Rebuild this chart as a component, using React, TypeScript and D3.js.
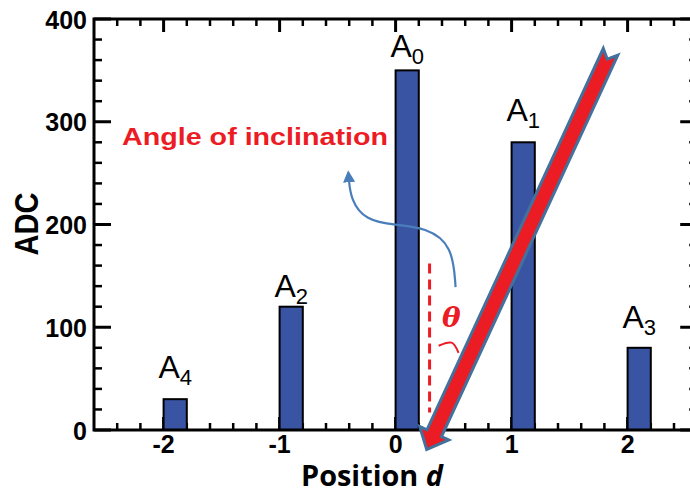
import React from 'react';
import * as d3 from 'd3';

// ---- data ----
const positions = [-2, -1, 0, 1, 2];
const adcValues = [30, 120, 350, 280, 80];
const barSubscripts = ['4', '2', '0', '1', '3'];
const xTicks = [-2, -1, 0, 1, 2];
const xTickLabels = ['-2', '-1', '0', '1', '2'];
const yTicks = [0, 100, 200, 300, 400];
const yTickLabels = ['0', '100', '200', '300', '400'];
const xTitle = 'Position ';
const xTitleVar = 'd';
const yTitle = 'ADC';
const annotationText = 'Angle of inclination';
const thetaText = 'θ';

// annotation anchors in data units [d, ADC]
const bigArrowTail: [number, number] = [1.853, 368];
const bigArrowTip: [number, number] = [0.268, -19];
const dashedTop: [number, number] = [0.293, 162];
const dashedBottom: [number, number] = [0.293, 17];
const curvePts: [number, number][] = [
  [0.517, 139], [0.491, 180], [0.259, 197], [0.0, 199.5],
  [-0.259, 204], [-0.388, 224], [-0.405, 247],
];
const arcPts: [number, number][] = [[0.371, 82], [0.483, 85], [0.543, 75]];

// ---- styles ----
const W = 690, H = 494;
const BAR_W = 0.2;
const LABEL_LIFT: Record<string, number> = { '4': 21, '2': 10, '0': 13, '1': 21, '3': 20 };
const BAR_FILL = '#3a54a4';
const RED = '#ec1c24';
const ARROW_BLUE = '#41719c';
const CURVE_BLUE = '#4a7ebb';
const SANS = '"Liberation Sans", Arial, sans-serif';

function arrowPolygon(x0: number, y0: number, x1: number, y1: number,
  hw: number, headW: number, headL: number, notch: number) {
  const dx = x1 - x0, dy = y1 - y0, L = Math.hypot(dx, dy);
  const ux = dx / L, uy = dy / L, nx = -uy, ny = ux;
  const P = (u: number, v: number) => [x0 + ux * u + nx * v, y0 + uy * u + ny * v];
  const pts = [P(0, -hw), P(L - headL, -hw), P(L - headL, -headW), P(L, 0),
    P(L - headL, headW), P(L - headL, hw), P(0, hw), P(notch, 0)];
  return pts.map(p => p.join(',')).join(' ');
}

export default function App() {
  const x = d3.scaleLinear().domain([-2.6, 2.6]).range([94, 94 + 116 * 5.2]);
  const y = d3.scaleLinear().domain([0, 400]).range([430, 19]);
  const [x0, x1] = x.range();
  const yTop = y(400), yBot = y(0);

  const xMinor = d3.range(-12, 13).map(i => i / 5);
  const yMinor = d3.range(0, 21).map(i => i * 20);

  const line = d3.line<[number, number]>().x(p => x(p[0])).y(p => y(p[1])).curve(d3.curveBasis);

  const tailPx = [x(bigArrowTail[0]), y(bigArrowTail[1])];
  const tipPx = [x(bigArrowTip[0]), y(bigArrowTip[1])];

  return (
    <div style={{ position: 'absolute', left: 0, top: 0 }}>
      <svg width={W} height={H} style={{ display: 'block' }}>
        <defs>
          <marker id="bluehead" viewBox="0 0 10 10" refX="5" refY="5" markerWidth="5.5" markerHeight="5.5" orient="auto">
            <path d="M0,0 L10,5 L0,10 Z" fill={CURVE_BLUE} />
          </marker>
        </defs>
        <rect width={W} height={H} fill="#fff" />

        {/* ticks */}
        {xMinor.map((v, i) => {
          const major = Math.abs(v - Math.round(v)) < 1e-6;
          const len = major ? 13 : 7;
          const sw = major ? 3 : 2.5;
          return (
            <g key={'xt' + i}>
              <line x1={x(v)} x2={x(v)} y1={yTop} y2={yTop + len} stroke="#000" strokeWidth={sw} />
              <line x1={x(v)} x2={x(v)} y1={yBot} y2={yBot - len} stroke="#000" strokeWidth={sw} />
            </g>
          );
        })}
        {yMinor.map((v, i) => {
          const major = v % 100 === 0;
          const len = major ? 17 : 8;
          const sw = major ? 3 : 2.5;
          return (
            <g key={'yt' + i}>
              <line x1={x0} x2={x0 + len} y1={y(v)} y2={y(v)} stroke="#000" strokeWidth={sw} />
              <line x1={x1} x2={x1 - len} y1={y(v)} y2={y(v)} stroke="#000" strokeWidth={sw} />
            </g>
          );
        })}

        {/* bars */}
        {positions.map((p, i) => (
          <rect key={'b' + i} x={x(p)} y={y(adcValues[i])} width={x(p + BAR_W) - x(p)}
            height={y(0) - y(adcValues[i])} fill={BAR_FILL} stroke="#000" strokeWidth={2} />
        ))}

        {/* bar labels */}
        {positions.map((p, i) => (
          <text key={'l' + i} x={x(p + BAR_W / 2)} y={y(adcValues[i]) - LABEL_LIFT[barSubscripts[i]]}
            textAnchor="middle" fontFamily={SANS} fontSize={32} fill="#000">
            A<tspan fontSize={22} dy={7}>{barSubscripts[i]}</tspan>
          </text>
        ))}

        {/* frame */}
        <rect x={x0} y={yTop} width={x1 - x0} height={yBot - yTop} fill="none" stroke="#000" strokeWidth={3} />

        {/* tick labels */}
        {xTicks.map((v, i) => (
          <text key={'xl' + i} x={x(v)} y={453} textAnchor="middle" fontFamily={SANS}
            fontWeight="bold" fontSize={25} fill="#000">{xTickLabels[i]}</text>
        ))}
        {yTicks.map((v, i) => (
          <text key={'yl' + i} x={87} y={y(v) + 9.5} textAnchor="end" fontFamily={SANS}
            fontWeight="bold" fontSize={25} fill="#000">{yTickLabels[i]}</text>
        ))}

        {/* axis titles */}
        <text x={372} y={486} textAnchor="middle" fontFamily='"Open Sans", sans-serif'
          fontWeight="bold" fontSize={29} fill="#000" textLength={142} lengthAdjust="spacingAndGlyphs">
          {xTitle}<tspan fontStyle="italic">{xTitleVar}</tspan>
        </text>
        <text transform="translate(38,224) rotate(-90)" textAnchor="middle" fontFamily={SANS}
          fontWeight="bold" fontSize={34} fill="#000" textLength={63} lengthAdjust="spacingAndGlyphs">{yTitle}</text>

        {/* annotations */}
        <text x={122} y={145} fontFamily={SANS} fontWeight="bold" fontSize={24} fill={RED}
          textLength={266} lengthAdjust="spacingAndGlyphs">{annotationText}</text>

        <path d={line(curvePts) || ''} fill="none" stroke={CURVE_BLUE} strokeWidth={2.2}
          markerEnd="url(#bluehead)" />

        <line x1={x(dashedTop[0])} x2={x(dashedBottom[0])} y1={y(dashedTop[1])} y2={y(dashedBottom[1])}
          stroke={RED} strokeWidth={3} strokeDasharray="10,6" />

        <text x={442} y={327} fontFamily='"DejaVu Serif", "Liberation Serif", serif' fontStyle="italic"
          fontWeight="bold" fontSize={28} fill={RED}>{thetaText}</text>

        <path d={d3.line<[number, number]>().x(p => x(p[0])).y(p => y(p[1])).curve(d3.curveNatural)(arcPts) || ''}
          fill="none" stroke={RED} strokeWidth={2} />

        <polygon points={arrowPolygon(tailPx[0], tailPx[1], tipPx[0], tipPx[1], 8, 16, 18, 8)}
          fill={RED} stroke={ARROW_BLUE} strokeWidth={3} strokeLinejoin="miter" />
      </svg>
    </div>
  );
}
